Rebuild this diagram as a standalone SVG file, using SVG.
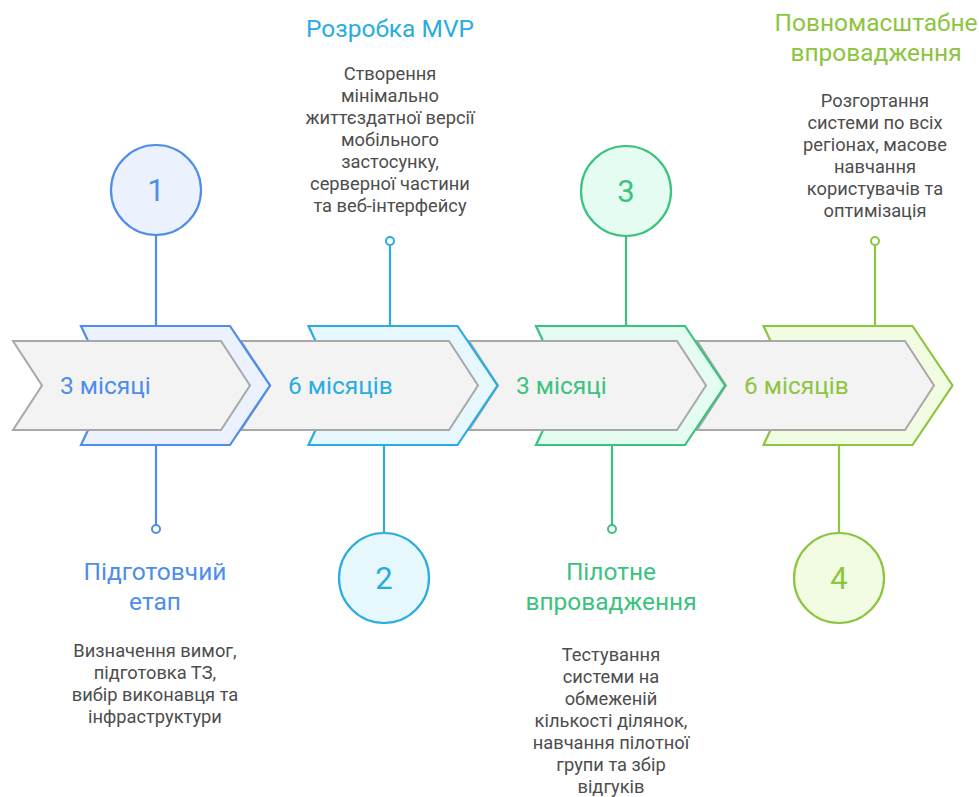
<svg xmlns="http://www.w3.org/2000/svg" width="979" height="797" viewBox="0 0 979 797">
<style>
text{font-family:Roboto,"Noto Sans",sans-serif}
.band{fill:#F3F3F3;stroke:#A8A8A8;stroke-width:2;stroke-linejoin:miter}
.dur{font-size:24.5px}
.title{font-size:24.5px;text-anchor:middle}
.desc{font-size:18.3px;fill:#4D4D4D;text-anchor:middle}
.num{font-size:31px;text-anchor:middle}
.ln{stroke-width:2.2;fill:none}
.dot{fill:#fff;stroke-width:2}
.b{stroke:#4E8DEA}.bf{fill:#EBF2FE}.bt{fill:#4E8DEA}
.c{stroke:#2AACE0}.cf{fill:#E6F7FE}.ct{fill:#2AACE0}
.g{stroke:#3CC27F}.gf{fill:#E4FCF1}.gt{fill:#3CC27F}
.l{stroke:#8CC540}.lf{fill:#F2FCE3}.lt{fill:#8CC540}
.shape{stroke-width:2.2}
</style>
<defs>
<path id="sh" d="M0,326 L149,326 L189,385.5 L149,445 L0,445 L28,385.5 Z"/>
<path id="gb" d="M13,341 L221,341 L250,385.5 L221,430 L13,430 L42,385.5 Z"/>
</defs>
<g id="connectors">
<line class="ln b" x1="156" y1="235" x2="156" y2="326"/>
<line class="ln b" x1="156" y1="445" x2="156" y2="525"/>
<circle class="dot b" cx="156" cy="529" r="4"/>
<line class="ln c" x1="390" y1="245" x2="390" y2="326"/>
<circle class="dot c" cx="390" cy="241" r="4"/>
<line class="ln c" x1="384" y1="445" x2="384" y2="533"/>
<line class="ln g" x1="626" y1="236" x2="626" y2="326"/>
<line class="ln g" x1="612" y1="445" x2="612" y2="525"/>
<circle class="dot g" cx="612" cy="529" r="4"/>
<line class="ln l" x1="875" y1="245" x2="875" y2="326"/>
<circle class="dot l" cx="875" cy="241" r="4"/>
<line class="ln l" x1="839" y1="445" x2="839" y2="533"/>
</g>
<g id="timeline">
<use href="#sh" x="763.5" class="shape l lf"/>
<use href="#gb" x="684" class="band"/>
<use href="#sh" x="536" class="shape g gf"/>
<use href="#gb" x="456" class="band"/>
<use href="#sh" x="308.5" class="shape c cf"/>
<use href="#gb" x="228" class="band"/>
<use href="#sh" x="81" class="shape b bf"/>
<use href="#gb" x="0" class="band"/>
<text class="dur bt" x="60" y="394">3 місяці</text>
<text class="dur ct" x="288" y="394">6 місяців</text>
<text class="dur gt" x="516" y="394">3 місяці</text>
<text class="dur lt" x="744" y="394">6 місяців</text>
</g>
<g id="node1">
<circle cx="156" cy="190" r="45" class="shape b bf"/>
<text class="num bt" x="156" y="201">1</text>
<text class="title bt" x="155" y="580">Підготовчий</text>
<text class="title bt" x="155" y="610">етап</text>
<text class="desc" x="155" y="657">Визначення вимог,</text>
<text class="desc" x="155" y="679">підготовка ТЗ,</text>
<text class="desc" x="155" y="701">вибір виконавця та</text>
<text class="desc" x="155" y="723">інфраструктури</text>
</g>
<g id="node2">
<circle cx="384" cy="578" r="45" class="shape c cf"/>
<text class="num ct" x="384" y="589">2</text>
<text class="title ct" x="390" y="37">Розробка MVP</text>
<text class="desc" x="390" y="80">Створення</text>
<text class="desc" x="390" y="102">мінімально</text>
<text class="desc" x="390" y="124">життєздатної версії</text>
<text class="desc" x="390" y="146">мобільного</text>
<text class="desc" x="390" y="168">застосунку,</text>
<text class="desc" x="390" y="190">серверної частини</text>
<text class="desc" x="390" y="212">та веб-інтерфейсу</text>
</g>
<g id="node3">
<circle cx="626" cy="191" r="45" class="shape g gf"/>
<text class="num gt" x="626" y="202">3</text>
<text class="title gt" x="611" y="580">Пілотне</text>
<text class="title gt" x="611" y="610">впровадження</text>
<text class="desc" x="611" y="661">Тестування</text>
<text class="desc" x="611" y="683">системи на</text>
<text class="desc" x="611" y="705">обмеженій</text>
<text class="desc" x="611" y="727">кількості ділянок,</text>
<text class="desc" x="611" y="749">навчання пілотної</text>
<text class="desc" x="611" y="771">групи та збір</text>
<text class="desc" x="611" y="793">відгуків</text>
</g>
<g id="node4">
<circle cx="839" cy="578" r="45" class="shape l lf"/>
<text class="num lt" x="839" y="589">4</text>
<text class="title lt" x="876" y="31">Повномасштабне</text>
<text class="title lt" x="876" y="61">впровадження</text>
<text class="desc" x="875" y="107">Розгортання</text>
<text class="desc" x="875" y="129">системи по всіх</text>
<text class="desc" x="875" y="151">регіонах, масове</text>
<text class="desc" x="875" y="173">навчання</text>
<text class="desc" x="875" y="195">користувачів та</text>
<text class="desc" x="875" y="217">оптимізація</text>
</g>
</svg>
